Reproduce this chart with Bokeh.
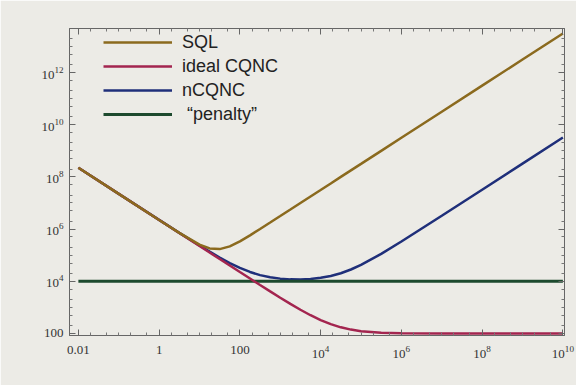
from math import pi
from bokeh.plotting import figure
from bokeh.models import (FixedTicker, LogTickFormatter, LogAxis, Label, Legend,
                          LegendItem, Range1d)
from bokeh.embed import file_html
from bokeh.resources import INLINE

# ---- data ----
G = [0.01, 0.1, 1, 3.16, 10, 17.8, 31.6, 56.2, 100, 178, 316, 562, 1e3, 1.78e3,
     3.16e3, 5.62e3, 1e4, 1.78e4, 3.16e4, 5.62e4, 1e5, 3.16e5, 1e6, 1e7, 1e8, 1e9, 1e10]
sql = [2.24e8, 2.24e7, 2.24e6, 7.18e5, 2.55e5, 1.82e5, 1.71e5, 2.18e5, 3.39e5, 5.75e5,
       1.007e6, 1.78e6, 3.16e6, 5.62e6, 1.0e7, 1.78e7, 3.16e7, 5.62e7, 1.0e8, 1.78e8,
       3.16e8, 1.0e9, 3.16e9, 3.16e10, 3.16e11, 3.16e12, 3.16e13]
ideal_cqnc = [2.24e8, 2.24e7, 2.24e6, 7.08e5, 2.24e5, 1.26e5, 7.09e4, 3.99e4, 2.25e4,
              1.27e4, 7.18e3, 4.08e3, 2.34e3, 1.36e3, 808, 498, 324, 226, 171, 140,
              122, 107, 102, 100, 100, 100, 100]
ncqnc = [2.24e8, 2.24e7, 2.25e6, 7.18e5, 2.34e5, 1.36e5, 8.08e4, 4.98e4, 3.24e4, 2.27e4,
         1.72e4, 1.42e4, 1.26e4, 1.18e4, 1.17e4, 1.22e4, 1.35e4, 1.59e4, 2.03e4, 2.82e4,
         4.24e4, 1.12e5, 3.34e5, 3.25e6, 3.24e7, 3.24e8, 3.24e9]
G_penalty = [0.01, 1e10]
penalty = [1e4, 1e4]

x_major = [1e-2, 1, 1e2, 1e4, 1e6, 1e8, 1e10]
y_major = [1e2, 1e4, 1e6, 1e8, 1e10, 1e12]
labels = ["SQL", "ideal CQNC", "nCQNC", " \u201cpenalty\u201d"]

BG = "#ecebe6"
C_SQL, C_IDEAL, C_N, C_PEN = "#8b6a1e", "#a3254f", "#1f2f7a", "#1d4a2e"


def minors(lo, hi, majors):
    out = []
    for k in range(lo, hi + 1):
        for m in (1, 2, 5):
            v = m * 10.0 ** k
            if v not in majors:
                out.append(v)
    return out


x_minor = minors(-3, 10, x_major)
y_minor = minors(1, 13, y_major)

p = figure(width=576, height=385, x_axis_type="log", y_axis_type="log",
           x_range=Range1d(10 ** -2.22, 10 ** 10.04),
           y_range=Range1d(10 ** 1.92, 10 ** 13.69),
           output_backend="svg", toolbar_location=None,
           min_border_left=69, min_border_right=12, min_border_top=28, min_border_bottom=50,
           background_fill_color=BG, border_fill_color=BG)
p.outline_line_color = "#666666"
p.grid.visible = False

xt = FixedTicker(ticks=x_major, minor_ticks=x_minor)
yt = FixedTicker(ticks=y_major, minor_ticks=y_minor)

for ax, t in ((p.xaxis[0], xt), (p.yaxis[0], yt)):
    ax.ticker = t
    ax.formatter = LogTickFormatter(min_exponent=3)
    ax.major_label_text_font = "Liberation Serif"
    ax.major_label_text_font_size = "13px"
    ax.major_label_text_color = "#333333"
    ax.major_tick_in = 6
    ax.major_tick_out = 0
    ax.minor_tick_in = 3
    ax.minor_tick_out = 0
    ax.axis_line_color = "#666666"
    ax.major_tick_line_color = "#666666"
    ax.minor_tick_line_color = "#777777"
p.xaxis.major_label_standoff = 10
p.yaxis.major_label_standoff = 6

for t, place in ((xt, "above"), (yt, "right")):
    a = LogAxis(ticker=t, major_label_text_font_size="1px", major_label_text_alpha=0,
                major_label_standoff=0,
                major_tick_in=6, major_tick_out=0, minor_tick_in=3, minor_tick_out=0,
                axis_line_color="#666666", major_tick_line_color="#666666",
                minor_tick_line_color="#777777")
    p.add_layout(a, place)

r_n = p.line(G, ncqnc, line_color=C_N, line_width=2.5)
r_p = p.line(G_penalty, penalty, line_color=C_PEN, line_width=3)
r_i = p.line(G, ideal_cqnc, line_color=C_IDEAL, line_width=2.5)
r_s = p.line(G, sql, line_color=C_SQL, line_width=2.5)

leg = Legend(items=[LegendItem(label=labels[0], renderers=[r_s]),
                    LegendItem(label=labels[1], renderers=[r_i]),
                    LegendItem(label=labels[2], renderers=[r_n]),
                    LegendItem(label=labels[3], renderers=[r_p])],
             location=(34, 209), padding=0, margin=0, spacing=0,
             glyph_width=69, glyph_height=24, label_height=24, label_standoff=10,
             label_text_font="Liberation Sans", label_text_font_size="18px",
             label_text_color="#222222", background_fill_alpha=0,
             border_line_alpha=0)
p.add_layout(leg)

p.add_layout(Label(x=249, y=-42, x_units="screen", y_units="screen", text="G",
                   text_align="center", text_baseline="middle",
                   text_font="Liberation Serif", text_font_size="14px",
                   text_color="#333333"))
p.add_layout(Label(x=-51, y=142, x_units="screen", y_units="screen", text="Noise",
                   angle=pi / 2, text_align="center", text_baseline="middle",
                   text_font="Liberation Serif", text_font_size="13px",
                   text_color="#333333"))

open("out.html", "w").write(file_html(p, INLINE))
